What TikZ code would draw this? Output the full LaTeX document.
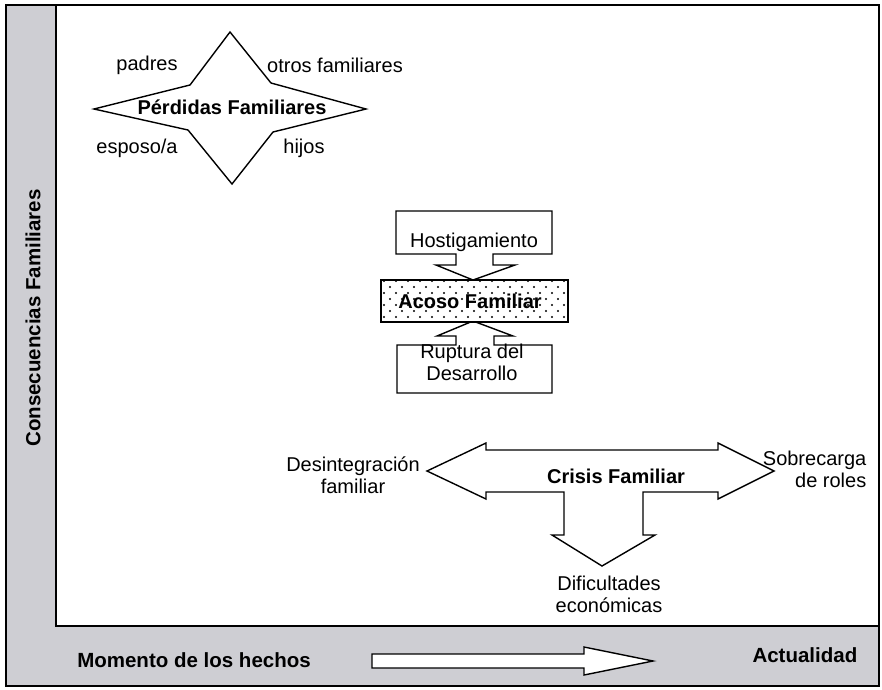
\documentclass[tikz,border=0pt]{standalone}
\usepackage{fontspec}
\setmainfont{Liberation Sans}
\usetikzlibrary{patterns.meta}
\definecolor{stripgray}{RGB}{206,206,211}

\begin{document}
\begin{tikzpicture}
  [x=1pt,y=-1pt,line width=1.4pt,line join=miter,
   lbl/.style={font=\fontsize{20}{22}\selectfont,inner sep=0pt,align=center},
   ttl/.style={font=\fontsize{20}{22}\selectfont\bfseries,inner sep=0pt,align=center},
   axis/.style={font=\fontsize{20.5}{24}\selectfont\bfseries,inner sep=0pt},
   block/.style={draw=black,fill=white}]
  \useasboundingbox (0,0) rectangle (882,689);

  % frame and gray strips
  \fill[stripgray] (6,5) rectangle (879,686);
  \draw[fill=white] (56,5) rectangle (879,626);
  \draw (6,5) rectangle (879,686);

  \node[axis,rotate=90] (nleft) at (33,318) {Consecuencias Familiares};
  \node[axis] (nfrom) at (194,660) {Momento de los hechos};
  \node[axis,anchor=east] (nnow) at (858,655) {Actualidad};
  \draw[block] (372,654) -- (584,654) -- (584,647) -- (653,661) -- (584,675) -- (584,668) -- (372,668) -- cycle;

  % perdidas
  \draw[block] (94,109) -- (190,85) -- (230,32) -- (271,83) -- (366,109) -- (273,132) -- (232,184) -- (188,130) -- cycle;
  \node[ttl] (nperd) at (232,107) {Pérdidas Familiares};
  \node[lbl] (npa) at (147,65) {padres};
  \node[lbl] (not) at (335,65) {otros familiares};
  \node[lbl] (nes) at (137,148) {esposo/a};
  \node[lbl] (nhi) at (304,148) {hijos};

  % acoso
  \draw[block] (396,211) -- (552,211) -- (552,254) -- (493,254) -- (493,265) -- (515,265) -- (473,280) -- (436,265) -- (456,265) -- (456,254) -- (396,254) -- cycle;
  \draw[block] (397,393) -- (552,393) -- (552,345) -- (494,345) -- (494,336) -- (513,336) -- (473,321) -- (437,336) -- (456,336) -- (456,345) -- (397,345) -- cycle;
  \draw[fill=white] (381,280) rectangle (568,322);
  \fill[pattern={Dots[distance=12pt,radius=1.2pt]}] (381,280) rectangle (568,322);
  \fill[pattern={Dots[distance=12pt,radius=1.2pt,xshift=6pt,yshift=6pt]}] (381,280) rectangle (568,322);
  \draw (381,280) rectangle (568,322);
  \node[lbl] (nhos) at (474,242) {Hostigamiento};
  \node[ttl] (naco) at (470,301) {Acoso Familiar};
  \node[lbl] (nrup) at (472,362) {Ruptura del\\Desarrollo};

  % crisis
  \draw[block] (427,471) -- (486,443) -- (486,450) -- (718,450) -- (718,443) -- (774,471) -- (718,499) -- (718,492) -- (643,492) -- (643,535) -- (655,535) -- (602,566) -- (552,535) -- (564,535) -- (564,492) -- (486,492) -- (486,499) -- cycle;
  \node[ttl] (ncri) at (616,476) {Crisis Familiar};
  \node[lbl] (ndes) at (353,475) {Desintegración\\familiar};
  \node[lbl,align=right,anchor=east] (nsob) at (867,469) {Sobrecarga\\de roles};
  \node[lbl] (ndif) at (609,594) {Dificultades\\económicas};
\end{tikzpicture}
\end{document}
